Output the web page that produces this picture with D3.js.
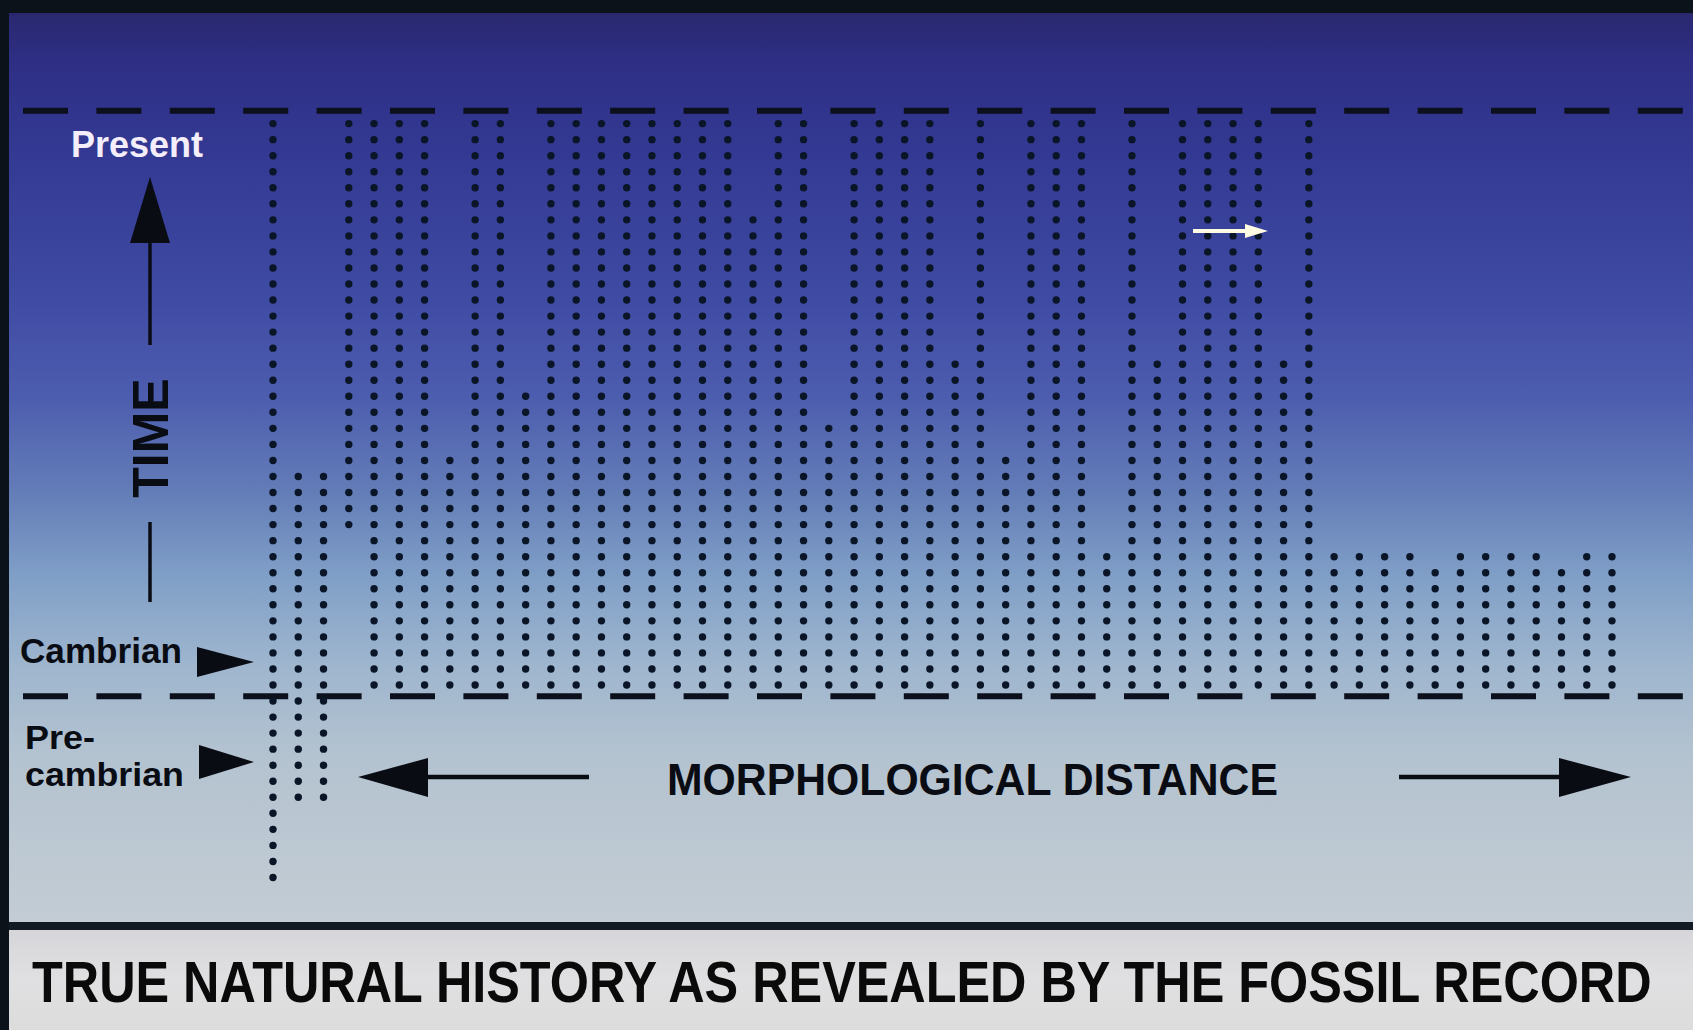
<!DOCTYPE html>
<html><head><meta charset="utf-8">
<script src="https://cdn.jsdelivr.net/npm/d3@7"></script>
<style>html,body{margin:0;padding:0;background:#dcdcdc;overflow:hidden}</style>
</head><body><svg id="c" width="1693" height="1030"></svg>
<script>
// ---- data ----
const phyla = d3.range(54).map(i => "P" + (i + 1));
// first (oldest) and last (youngest) time step in which each body plan is recorded
const firstRow = [-12, -7, -7, 10].concat(d3.range(50).map(() => 0));
const lastRow = [35,13,13,35,35,35,35,14,35,35,
                 18,35,35,35,35,35,35,35,35,29,
                 35,35,16,35,35,35,35,20,35,14,
                 35,35,35,8,35,20,35,35,35,35,
                 20,35,8,8,8,8,7,8,8,8,
                 8,7,8,8];
const presentLevel = 35.8;
const cambrianLevel = -0.7;
const timeLabel = "TIME";
const presentLabel = "Present";
const cambrianLabel = "Cambrian";
const precambrianLabel = ["Pre-", "cambrian"];
const xAxisLabel = "MORPHOLOGICAL DISTANCE";
const caption = "TRUE NATURAL HISTORY AS REVEALED BY THE FOSSIL RECORD";

// ---- drawing ----
const W = 1693, H = 1030;
const svg = d3.select("#c");
const font = "'Liberation Sans', Arial, Helvetica, sans-serif";
const ink = "#0a0c14";

const x = d3.scalePoint().domain(phyla).range([273, 1612]);
const y = d3.scaleLinear().domain([0, 35]).range([685, 123.6]);

const defs = svg.append("defs");
const g = defs.append("linearGradient").attr("id", "bg")
  .attr("gradientUnits", "userSpaceOnUse").attr("x1", 0).attr("x2", 0).attr("y1", 13).attr("y2", 922);
[[0, "#29286f"], [0.05, "#2e2e84"], [0.15, "#333992"], [0.3, "#3e49a2"], [0.42, "#4c5cae"],
 [0.53, "#647eb8"], [0.62, "#809fc7"], [0.72, "#9fb6ce"], [0.82, "#b4c3d0"], [1, "#c3ccd4"]]
 .forEach(([o, c]) => g.append("stop").attr("offset", o).attr("stop-color", c));
const cg = defs.append("linearGradient").attr("id", "capbg")
  .attr("x1", 0).attr("x2", 0).attr("y1", 0).attr("y2", 1);
[[0, "#d6d6da"], [0.5, "#e0e0e2"], [1, "#dcdcdc"]]
 .forEach(([o, c]) => cg.append("stop").attr("offset", o).attr("stop-color", c));

// frame
svg.append("rect").attr("width", W).attr("height", H).attr("fill", "#0b121a");
svg.append("rect").attr("x", 9).attr("y", 13).attr("width", W - 9).attr("height", 909).attr("fill", "url(#bg)");
svg.append("rect").attr("x", 9).attr("y", 930).attr("width", W - 9).attr("height", H - 930).attr("fill", "url(#capbg)");
svg.append("rect").attr("x", 9).attr("y", 922).attr("width", W - 9).attr("height", 8).attr("fill", "#121a24");

// dashed time lines
[presentLevel, cambrianLevel].forEach(l => {
  svg.append("line").attr("x1", 23).attr("x2", W).attr("y1", y(l)).attr("y2", y(l))
    .attr("stroke", "#0c0f1c").attr("stroke-width", 6).attr("stroke-dasharray", "45 28.4");
});

// dots
const dots = [];
phyla.forEach((p, i) => {
  d3.range(firstRow[i], lastRow[i] + 1).forEach(r => dots.push({p, r}));
});
svg.append("g").selectAll("circle").data(dots).join("circle")
  .attr("cx", d => x(d.p)).attr("cy", d => y(d.r)).attr("r", 3.7).attr("fill", "#0a1628");

// helper: text squeezed horizontally to a given width
function fitText(str, x0, y0, size, width, fill) {
  const t = svg.append("text").attr("font-family", font).attr("font-weight", "bold")
    .attr("font-size", size).attr("fill", fill).text(str);
  const w = t.node().getComputedTextLength();
  t.attr("transform", `translate(${x0},${y0}) scale(${width / w},1)`);
  return t;
}

// Present label and time arrow
svg.append("text").attr("x", 71).attr("y", 157).attr("font-family", font).attr("font-weight", "bold")
  .attr("font-size", 36).attr("fill", "#f4eefa").text(presentLabel);
svg.append("path").attr("d", "M150,177 L170,243 L130,243 Z").attr("fill", ink);
svg.append("line").attr("x1", 150).attr("x2", 150).attr("y1", 240).attr("y2", 345)
  .attr("stroke", ink).attr("stroke-width", 3.5);
svg.append("line").attr("x1", 150).attr("x2", 150).attr("y1", 522).attr("y2", 602)
  .attr("stroke", ink).attr("stroke-width", 3.5);
svg.append("text").attr("transform", "translate(168,438) rotate(-90)").attr("text-anchor", "middle")
  .attr("font-family", font).attr("font-weight", "bold").attr("font-size", 50).attr("fill", ink)
  .text(timeLabel);

// period labels
fitText(cambrianLabel, 20, 663, 35, 162, ink);
svg.append("path").attr("d", "M254,662 L197,647 L197,677 Z").attr("fill", ink);
fitText(precambrianLabel[0], 25, 749, 33, 70, ink);
fitText(precambrianLabel[1], 25, 786, 33, 159, ink);
svg.append("path").attr("d", "M254,762 L199,745 L199,779 Z").attr("fill", ink);

// morphological distance axis
svg.append("path").attr("d", "M358,777 L428,758 L428,797 Z").attr("fill", ink);
svg.append("line").attr("x1", 425).attr("x2", 589).attr("y1", 777).attr("y2", 777)
  .attr("stroke", ink).attr("stroke-width", 4.5);
svg.append("line").attr("x1", 1399).attr("x2", 1562).attr("y1", 777).attr("y2", 777)
  .attr("stroke", ink).attr("stroke-width", 4.5);
svg.append("path").attr("d", "M1631,777 L1559,758 L1559,797 Z").attr("fill", ink);
fitText(xAxisLabel, 667, 795, 45, 611, ink);

// white pointer arrow
svg.append("line").attr("x1", 1193).attr("x2", 1250).attr("y1", 231).attr("y2", 231)
  .attr("stroke", "#fffbe2").attr("stroke-width", 4);
svg.append("path").attr("d", "M1268,231 L1245,224 L1245,238 Z").attr("fill", "#fffbe2");

// caption
fitText(caption, 32, 1002, 58, 1620, "#0a0a0a");
</script></body></html>
